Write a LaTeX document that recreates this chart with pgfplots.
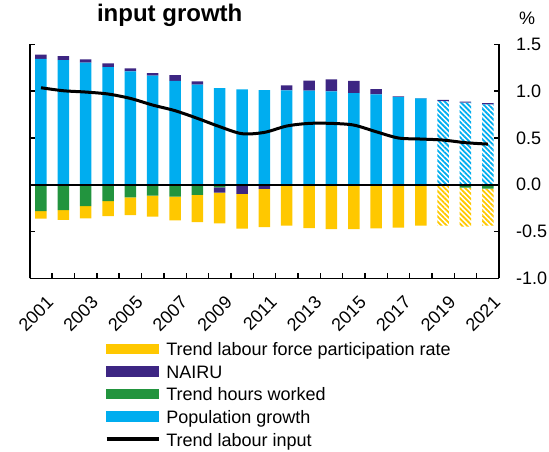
\documentclass[border=0pt]{standalone}
\usepackage{pgfplots}
\pgfplotsset{compat=1.18}
\usepackage{pgfplotstable}
\usepackage{fontspec}
\setmainfont{Liberation Sans}
\usetikzlibrary{patterns.meta}
\definecolor{cyellow}{HTML}{FFC800}
\definecolor{cpurple}{HTML}{3D2683}
\definecolor{cgreen}{HTML}{22943E}
\definecolor{cblue}{HTML}{00ADEF}

% positive contributions (bluef = forecast, hatched)
\pgfplotstableread{
year  blue   bluef  nairu
2001  1.343  0      0.046
2002  1.332  0      0.043
2003  1.303  0      0.036
2004  1.257  0      0.039
2005  1.211  0      0.032
2006  1.165  0      0.028
2007  1.108  0      0.064
2008  1.068  0      0.036
2009  1.033  0      0
2010  1.019  0      0
2011  1.011  0      0
2012  1.008  0      0.053
2013  1.004  0      0.107
2014  0.997  0      0.128
2015  0.979  0      0.129
2016  0.965  0      0.057
2017  0.937  0      0.007
2018  0.922  0      0.004
2019  0      0.894  0.011
2020  0      0.876  0.011
2021  0      0.858  0.014
}\postable

% negative contributions (yellowf = forecast, hatched)
\pgfplotstableread{
year  green   nairu   yellow  yellowf
2001  -0.281  0       -0.082  0
2002  -0.271  0       -0.106  0
2003  -0.228  0       -0.132  0
2004  -0.175  0       -0.160  0
2005  -0.135  0       -0.189  0
2006  -0.118  0       -0.224  0
2007  -0.128  0       -0.253  0
2008  -0.110  0       -0.289  0
2009  -0.028  -0.057  -0.328  0
2010  0       -0.099  -0.371  0
2011  0       -0.045  -0.407  0
2012  0       0       -0.438  0
2013  0       0       -0.463  0
2014  0       0       -0.474  0
2015  0       0       -0.474  0
2016  0       0       -0.467  0
2017  0       0       -0.459  0
2018  0       0       -0.438  0
2019  0       0       0       -0.438
2020  -0.032  0       0       -0.417
2021  -0.043  0       0       -0.395
}\negtable

\pgfplotstableread{
year  line
2001  1.036
2002  1.004
2003  0.990
2004  0.969
2005  0.922
2006  0.851
2007  0.791
2008  0.709
2009  0.620
2010  0.545
2011  0.559
2012  0.627
2013  0.655
2014  0.655
2015  0.637
2016  0.566
2017  0.499
2018  0.488
2019  0.477
2020  0.449
2021  0.434
}\linetable

\pgfplotsset{
  common/.style={
    scale only axis, width=469.2pt, height=234pt,
    xmin=2000.5, xmax=2021.5, ymin=-1, ymax=1.5,
    at={(0pt,0pt)}, anchor=south west,
  },
  bars/.style={common, hide axis, ybar stacked, bar width=11.5pt},
  hatchY/.style={draw=none, pattern={Lines[angle=-45,distance=3.6pt,line width=1.8pt]}, pattern color=cyellow},
  hatchB/.style={draw=none, pattern={Lines[angle=-45,distance=3.6pt,line width=1.8pt]}, pattern color=cblue},
}

\begin{document}
\begin{tikzpicture}
\path[use as bounding box] (-29.8pt,-172.7pt) rectangle (519.2pt,278.3pt);

% negative stack
\begin{axis}[bars]
\addplot[fill=cgreen, draw=none] table[x=year, y=green] {\negtable};
\addplot[fill=cpurple, draw=none] table[x=year, y=nairu] {\negtable};
\addplot[fill=cyellow, draw=none] table[x=year, y=yellow] {\negtable};
\addplot[hatchY] table[x=year, y=yellowf] {\negtable};
\end{axis}

% positive stack
\begin{axis}[bars]
\addplot[fill=cblue, draw=none] table[x=year, y=blue] {\postable};
\addplot[hatchB] table[x=year, y=bluef] {\postable};
\addplot[fill=cpurple, draw=none] table[x=year, y=nairu] {\postable};
\end{axis}

% lines, axes and legend
\begin{axis}[common,
  axis x line*=bottom,
  axis line style={line width=1.6pt, black},
  xtick align=inside, ytick align=inside,
  major tick length=5pt,
  minor tick length=5pt,
  every tick/.append style={black, line width=1.4pt},
  xtick={2000.5,2002.5,2004.5,2006.5,2008.5,2010.5,2012.5,2014.5,2016.5,2018.5,2020.5},
  xticklabels={2001,2003,2005,2007,2009,2011,2013,2015,2017,2019,2021},
  minor xtick={2001.5,2003.5,2005.5,2007.5,2009.5,2011.5,2013.5,2015.5,2017.5,2019.5,2021.5},
  xticklabel style={xshift=15.8pt, yshift=-16.4pt, rotate=45, anchor=north east, inner sep=0pt},
  ytick={-1,-0.5,0,0.5,1,1.5},
  yticklabels={-1.0,-0.5,0.0,0.5,1.0,1.5},
  ytick pos=both,
  yticklabel pos=right,
  yticklabel style={anchor=west, inner sep=0pt, xshift=17pt},
  tick label style={font=\fontsize{18}{18}\selectfont},
  legend cell align=left,
  legend style={at={(0.1603,-0.2624)}, anchor=north west, draw=none, fill=none,
    inner sep=0pt, outer sep=0pt, row sep=0pt,
    font=\fontsize{18}{18}\selectfont,
    nodes={inner sep=0pt, text height=16pt, text depth=6.6pt},
    /tikz/every odd column/.append style={column sep=6pt}},
]
\addplot[black, line width=1.8pt, forget plot] coordinates {(2000.5,0) (2021.5,0)};
\addplot[black, line width=3pt, smooth, forget plot] table[x=year, y=line] {\linetable};
\addlegendimage{legend image code/.code={\fill[cyellow] (0pt,-2.25pt) rectangle (52pt,7.25pt);}}
\addlegendentry{Trend labour force participation rate}
\addlegendimage{legend image code/.code={\fill[cpurple] (0pt,-2.25pt) rectangle (52pt,7.25pt);}}
\addlegendentry{NAIRU}
\addlegendimage{legend image code/.code={\fill[cgreen] (0pt,-2.25pt) rectangle (52pt,7.25pt);}}
\addlegendentry{Trend hours worked}
\addlegendimage{legend image code/.code={\fill[cblue] (0pt,-2.25pt) rectangle (52pt,7.25pt);}}
\addlegendentry{Population growth}
\addlegendimage{legend image code/.code={\draw[black, line width=3.3pt] (0pt,2.3pt) -- (52pt,2.3pt);}}
\addlegendentry{Trend labour input}
\end{axis}

\node[anchor=base, font=\fontsize{24}{24}\selectfont\bfseries] at (139.9pt,256.6pt) {input growth};
\node[anchor=base, font=\fontsize{18}{18}\selectfont] at (497.2pt,253.8pt) {\%};
\end{tikzpicture}
\end{document}
